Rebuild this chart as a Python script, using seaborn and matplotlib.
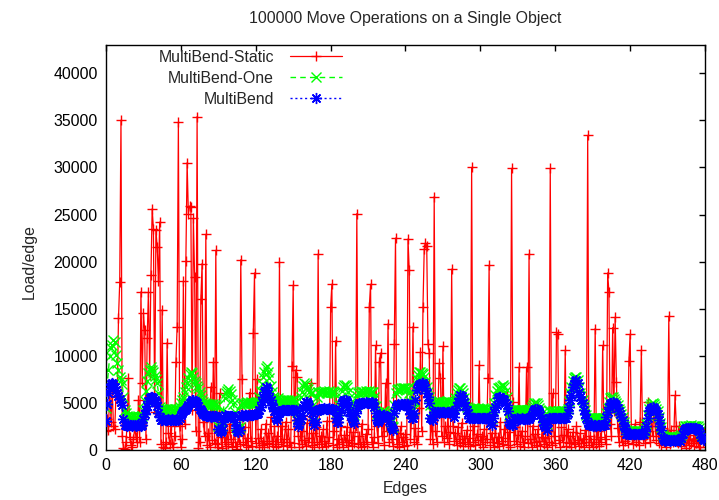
import numpy as np
import matplotlib
matplotlib.use("Agg")
import matplotlib.pyplot as plt
import seaborn as sns

# Load per edge after 100000 move operations, one value per edge (0..479)
multibend_static = [
    2000, 3300, 2100, 6700, 3000, 6400, 2500, 2200, 6000, 5600,
    14000, 17800, 35000, 1500, 200, 100, 800, 2900, 7600, 1400,
    500, 350, 1200, 2300, 1400, 800, 5300, 900, 16800, 7100,
    14500, 12700, 1200, 11900, 16800, 8000, 18600, 25600, 23500, 4000,
    23400, 21600, 17900, 24200, 600, 14900, 300, 250, 900, 11400,
    1800, 600, 2500, 700, 300, 1500, 9300, 13100, 34800, 2500,
    300, 1200, 17900, 2800, 20100, 30500, 25100, 25900, 25800, 4200,
    24600, 18400, 2000, 35400, 260, 800, 16000, 19800, 3000, 1500,
    22900, 500, 1800, 300, 6700, 1100, 9300, 700, 21200, 600,
    300, 6000, 1400, 200, 2600, 900, 400, 1900, 600, 2800,
    1200, 300, 800, 2100, 400, 100, 1500, 600, 20200, 7500,
    900, 2400, 500, 1300, 300, 6100, 1000, 400, 12400, 18800,
    700, 7500, 1300, 300, 2200, 500, 1000, 300, 2800, 700,
    1800, 600, 3500, 1000, 400, 2500, 300, 1500, 600, 20000,
    800, 2600, 400, 1200, 3000, 500, 2200, 900, 300, 8900,
    17500, 700, 8500, 7800, 1500, 300, 2000, 600, 3600, 1100,
    400, 2900, 800, 1300, 7100, 500, 1800, 300, 2400, 900,
    20800, 600, 1500, 300, 2200, 1000, 400, 3100, 700, 1400,
    15200, 17600, 500, 2000, 11600, 300, 1200, 600, 2600, 900,
    300, 1600, 800, 2400, 500, 1100, 3200, 400, 1900, 700,
    2500, 25100, 600, 1500, 300, 2800, 900, 400, 1700, 600,
    2200, 15200, 17600, 800, 300, 1400, 11100, 2600, 700, 9300,
    10300, 1500, 4000, 500, 7100, 2000, 13400, 800, 3000, 1200,
    400, 11300, 22500, 600, 1800, 300, 2500, 900, 1400, 400,
    1700, 500, 22400, 19100, 1200, 3500, 13100, 900, 2300, 600,
    1500, 4500, 10400, 2000, 15200, 21300, 22000, 21700, 11300, 10300,
    1200, 3200, 600, 26900, 2000, 900, 4200, 9200, 7600, 1500,
    11000, 800, 2500, 1300, 3800, 600, 1900, 19200, 2600, 1000,
    1800, 500, 2400, 1200, 700, 2900, 400, 1500, 800, 2100,
    600, 1300, 400, 30000, 900, 2600, 500, 1700, 1100, 9000,
    600, 1500, 300, 2200, 800, 1200, 7600, 19600, 500, 1800,
    900, 300, 2600, 700, 1400, 400, 3000, 1000, 600, 2200,
    1300, 5800, 500, 1900, 300, 29900, 5100, 1000, 2400, 600,
    1600, 8800, 400, 2000, 900, 300, 1500, 8800, 700, 20800,
    1200, 300, 2600, 800, 1700, 500, 2200, 1000, 400, 1400,
    2800, 600, 1300, 300, 2000, 900, 29900, 500, 6000, 1500,
    700, 12500, 12300, 1100, 300, 2400, 800, 1600, 10600, 400,
    2200, 700, 1500, 300, 1900, 900, 600, 2500, 1100, 400,
    1800, 700, 1200, 300, 2100, 800, 33400, 500, 1500, 900,
    300, 1200, 12900, 600, 2000, 400, 1400, 800, 11100, 2400,
    1200, 600, 18800, 16800, 2800, 1500, 13000, 4100, 14100, 7200,
    2300, 900, 3500, 1500, 500, 2600, 1000, 1800, 700, 9400,
    12300, 2000, 600, 1500, 2800, 800, 1900, 500, 3000, 10600,
    1200, 2400, 700, 1600, 5100, 2000, 900, 3300, 1500, 4400,
    2600, 1100, 3000, 700, 1800, 500, 2300, 900, 1400, 300,
    1700, 14200, 600, 2100, 900, 1500, 5800, 2500, 700, 2500,
    1300, 400, 2000, 800, 1500, 250, 1100, 500, 1900, 700,
    1200, 400, 1600, 700, 1000, 300, 350, 1300, 800, 1900,
]

multibend_one = [
    4500, 7000, 8500, 10000, 10800, 11200, 11700, 11500, 10100, 9200,
    8500, 7800, 7400, 7000, 5650, 4250, 3900, 3600, 3500, 3550,
    3500, 3550, 3600, 3500, 3550, 3500, 3600, 3550, 3500, 3600,
    4300, 5200, 6300, 7300, 8200, 8500, 8800, 8500, 8300, 7900,
    7500, 7100, 6100, 4600, 4400, 4300, 4400, 4350, 4300, 4400,
    4300, 4350, 4400, 4300, 4250, 4400, 4350, 4300, 4400, 4600,
    5000, 5300, 5650, 6200, 6700, 7100, 7600, 8100, 8300, 8200,
    7800, 7300, 7100, 6800, 6550, 6200, 5800, 5400, 5100, 4950,
    4900, 4800, 4850, 4900, 4800, 4750, 4850, 4800, 4900, 4700,
    2600, 2300, 2200, 2500, 4200, 5500, 6000, 6300, 6500, 6300,
    5900, 5300, 4900, 4000, 2600, 2300, 2200, 2400, 4800, 5000,
    5000, 4900, 5000, 5050, 4950, 5000, 5100, 5000, 4950, 5000,
    5000, 5100, 5100, 5600, 6300, 7000, 7700, 8300, 8700, 8900,
    8300, 7600, 6800, 6200, 5650, 5500, 5300, 5400, 5500, 5300,
    5300, 5250, 5300, 5200, 5300, 5250, 5300, 5200, 5250, 5300,
    5200, 5300, 5250, 4000, 3400, 4500, 5600, 6200, 6800, 7100,
    7000, 6700, 6500, 6200, 6100, 6000, 4800, 3700, 4200, 5600,
    6200, 6100, 6200, 6150, 6200, 6250, 6200, 6100, 6200, 6250,
    6200, 6150, 6200, 6000, 4400, 4000, 4100, 4800, 5600, 6300,
    6700, 6900, 6900, 6700, 6200, 5500, 4900, 4300, 3900, 3700,
    4800, 5700, 6100, 6200, 6250, 6200, 6150, 6200, 6250, 6200,
    6200, 6250, 6200, 6150, 6200, 5600, 4700, 3800, 3400, 3600,
    3900, 4000, 4100, 4100, 4000, 3900, 3800, 3500, 3000, 2600,
    2400, 4800, 6000, 6400, 6450, 6500, 6550, 6500, 6550, 6600,
    6550, 6500, 6600, 6000, 5200, 4400, 4300, 5200, 6500, 7500,
    8000, 8300, 8300, 8200, 8100, 7700, 7200, 6700, 6200, 5600,
    4800, 4000, 4200, 5000, 5100, 5050, 5100, 5150, 5100, 5000,
    5100, 5050, 5100, 5150, 5100, 5050, 5100, 5000, 4800, 4500,
    5500, 6100, 6400, 6550, 6600, 6400, 6000, 5500, 5000, 4600,
    4400, 4400, 4350, 4400, 4450, 4400, 4350, 4400, 4450, 4400,
    4350, 4400, 4450, 4400, 4350, 4400, 4400, 4300, 3700, 3400,
    4200, 5000, 5800, 6300, 6550, 6600, 6700, 6800, 6900, 6700,
    6200, 5600, 4800, 3700, 4000, 4200, 4250, 4250, 4200, 4300,
    4250, 4200, 4300, 4250, 4200, 4300, 4250, 4200, 4250, 4300,
    4400, 4600, 4800, 4950, 5000, 4950, 4800, 4500, 4200, 3900,
    3600, 3300, 3000, 2800, 3700, 4100, 4100, 4050, 4100, 4150,
    4100, 4050, 4100, 4100, 4050, 4100, 4150, 4100, 4050, 4100,
    4400, 5200, 6000, 6700, 7300, 7600, 7800, 7700, 7400, 6700,
    6100, 5700, 5300, 4800, 4200, 3700, 3400, 3400, 3350, 3400,
    3400, 3350, 3400, 3450, 3400, 3350, 3400, 3400, 3350, 3400,
    3300, 3900, 4500, 5100, 5500, 5650, 5600, 5400, 5200, 5000,
    4800, 4400, 4100, 3800, 3500, 3000, 2600, 2100, 2000, 2050,
    2000, 2050, 2000, 1950, 2000, 2050, 2000, 1950, 2000, 2050,
    2000, 2050, 2300, 2800, 3700, 4400, 4700, 4900, 5000, 4900,
    4700, 4400, 4100, 3500, 2900, 2400, 1600, 1400, 1350, 1400,
    1400, 1350, 1400, 1450, 1400, 1350, 1400, 1400, 1350, 1400,
    1400, 1600, 2000, 2300, 2500, 2600, 2600, 2550, 2600, 2650,
    2600, 2550, 2600, 2600, 2550, 2300, 2000, 1700, 1500, 1400,
]

multibend = [
    3100, 4900, 6000, 6600, 7000, 7100, 7000, 6700, 6400, 6000,
    5700, 5400, 5100, 4800, 3300, 2700, 2650, 2600, 2650, 2700,
    2650, 2600, 2700, 2650, 2600, 2650, 2700, 2650, 2600, 2700,
    3300, 3800, 4250, 4700, 5200, 5500, 5600, 5650, 5500, 5300,
    5100, 4700, 3900, 3500, 3200, 3200, 3250, 3200, 3150, 3200,
    3250, 3200, 3200, 3250, 3200, 3150, 3200, 3250, 3200, 3400,
    3700, 3900, 4100, 4300, 4400, 4600, 4800, 5000, 5100, 5300,
    5300, 5250, 5100, 4950, 4700, 4400, 4200, 4000, 3800, 3700,
    3600, 3600, 3650, 3600, 3550, 3600, 3650, 3600, 3600, 3500,
    2200, 2000, 1900, 2100, 3000, 3700, 3650, 3600, 3650, 3600,
    3650, 3600, 3500, 3000, 2300, 2000, 1900, 2100, 3700, 3700,
    3650, 3700, 3700, 3650, 3700, 3750, 3700, 3700, 3750, 3800,
    3800, 3850, 3900, 4200, 4600, 5100, 5650, 6200, 6700, 6600,
    6000, 5500, 5300, 4800, 4600, 4100, 3400, 3200, 3600, 3900,
    4100, 4250, 4250, 4300, 4250, 4200, 4250, 4300, 4250, 4200,
    4250, 4200, 4250, 3200, 2500, 2800, 3300, 3700, 4500, 4800,
    5100, 5050, 4900, 4600, 4250, 3900, 3200, 2650, 3000, 4100,
    4300, 4400, 4400, 4350, 4400, 4450, 4400, 4350, 4400, 4450,
    4400, 4350, 4400, 4300, 3400, 3000, 3000, 3700, 4300, 4950,
    5200, 5300, 5300, 5100, 4600, 4000, 3600, 3400, 3100, 2850,
    3900, 4500, 4800, 4950, 5000, 5000, 4950, 5000, 5050, 5000,
    4950, 5000, 5000, 5050, 5000, 4600, 3900, 3200, 3000, 3200,
    3500, 3600, 3700, 3700, 3600, 3500, 3400, 3100, 2600, 2300,
    2100, 3900, 4600, 4800, 4850, 4800, 4900, 4850, 4800, 4900,
    4900, 4850, 4900, 4250, 3800, 3400, 3400, 3900, 5300, 6400,
    6700, 6900, 7000, 7100, 7100, 6900, 6550, 6100, 5650, 4950,
    3400, 3300, 3200, 4000, 4000, 4050, 4000, 3950, 4000, 4050,
    4000, 4000, 3950, 4000, 4050, 4000, 3950, 4000, 3900, 3500,
    4250, 4700, 5100, 5500, 5800, 5700, 5400, 5100, 4700, 4300,
    3900, 3400, 3400, 3350, 3400, 3450, 3400, 3350, 3400, 3400,
    3450, 3400, 3350, 3400, 3400, 3450, 3400, 3350, 2900, 2650,
    3400, 4000, 4600, 4800, 5500, 5650, 5600, 5450, 5400, 5300,
    5000, 4800, 4100, 3000, 2800, 2700, 2650, 3300, 3300, 3350,
    3300, 3250, 3300, 3350, 3300, 3300, 3250, 3300, 3350, 3300,
    3500, 3700, 4000, 4300, 4400, 4350, 4250, 4000, 3700, 3400,
    3000, 2650, 2400, 2100, 3000, 3400, 3400, 3350, 3400, 3400,
    3350, 3400, 3400, 3350, 3400, 3350, 3400, 3400, 3350, 3400,
    3900, 4600, 5300, 5800, 6700, 7000, 7300, 7400, 7100, 6200,
    5650, 5300, 4950, 4250, 3800, 3400, 2850, 2700, 2650, 2650,
    2600, 2650, 2650, 2600, 2650, 2650, 2600, 2650, 2700, 2650,
    2700, 3500, 4000, 4600, 4900, 5000, 5100, 5000, 4900, 4800,
    4500, 4100, 3800, 3500, 3200, 2600, 2300, 1750, 1700, 1700,
    1750, 1700, 1650, 1700, 1750, 1700, 1700, 1650, 1700, 1750,
    1700, 1700, 2000, 2500, 3400, 4100, 4300, 4500, 4600, 4500,
    4300, 4100, 3800, 3200, 2600, 2100, 1300, 1050, 1000, 1050,
    1100, 1050, 1000, 1050, 1100, 1050, 1000, 1050, 1100, 1050,
    1000, 1300, 1700, 2000, 2200, 2300, 2300, 2250, 2300, 2350,
    2300, 2250, 2300, 2300, 2250, 2000, 1700, 1400, 1200, 1100,
]

edges = np.arange(len(multibend_static))

x_ticks = [0, 60, 120, 180, 240, 300, 360, 420, 480]
y_ticks = [0, 5000, 10000, 15000, 20000, 25000, 30000, 35000, 40000]

FS = 11.4

sns.set_theme(style="white")
plt.rcParams["font.family"] = ["Liberation Sans", "DejaVu Sans"]
plt.rcParams.update({
    "font.size": FS,
    "axes.edgecolor": "black",
    "axes.linewidth": 1.0,
    "xtick.direction": "in",
    "ytick.direction": "in",
    "xtick.top": True,
    "ytick.right": True,
    "xtick.color": "black",
    "ytick.color": "black",
    "xtick.major.size": 4.5,
    "ytick.major.size": 4.5,
    "xtick.major.width": 1.0,
    "ytick.major.width": 1.0,
    "xtick.major.pad": 6,
    "ytick.major.pad": 6,
    "xtick.labelsize": FS,
    "ytick.labelsize": FS,
})

W, H = 719, 500
fig = plt.figure(figsize=(W / 100, H / 100), dpi=100)
ax = fig.add_axes([106 / W, 50 / H, 599 / W, 405 / H])

# Static drawn first so the two adaptive series sit on top of it
sns.lineplot(x=edges, y=multibend_static, ax=ax, color="#ff0000", lw=0.9,
             linestyle="-", marker="+", markersize=7,
             markeredgewidth=1.0, markeredgecolor="#ff0000",
             label="MultiBend-Static", errorbar=None, zorder=1)
sns.lineplot(x=edges, y=multibend_one, ax=ax, color="#00ff00", lw=1.0,
             linestyle=(0, (4, 3)), marker="x", markersize=6.5,
             markeredgewidth=1.0, markeredgecolor="#00ff00",
             label="MultiBend-One", errorbar=None, zorder=2)
sns.lineplot(x=edges, y=multibend, ax=ax, color="#0000ff", lw=1.0,
             linestyle=(0, (1.5, 2)), marker=(8, 2, 0), markersize=8,
             markeredgewidth=1.0, markeredgecolor="#0000ff",
             label="MultiBend", errorbar=None, zorder=3)

ax.set_xlim(0, 480)
ax.set_ylim(0, 43000)
ax.set_xticks(x_ticks)
ax.set_xticklabels([str(t) for t in x_ticks])
ax.set_yticks(y_ticks)
ax.set_yticklabels([str(t) for t in y_ticks])
ax.set_xlabel("")
ax.set_ylabel("")

ax.legend(loc="upper right", bbox_to_anchor=(342 / W, 1 - 50 / H),
          bbox_transform=fig.transFigure, frameon=False, markerfirst=False,
          numpoints=1, handlelength=3.3, handletextpad=1.0,
          labelspacing=0.38, borderpad=0, borderaxespad=0, fontsize=FS)

fig.text(405.5 / W, 1 - 18 / H, "100000 Move Operations on a Single Object",
         ha="center", va="center", fontsize=FS)
fig.text(405.5 / W, 1 - 489 / H, "Edges", ha="center", va="center", fontsize=FS)
fig.text(29 / W, 1 - 262 / H, "Load/edge", ha="center", va="center",
         rotation=90, fontsize=FS)

fig.savefig("out.png", dpi=100)
